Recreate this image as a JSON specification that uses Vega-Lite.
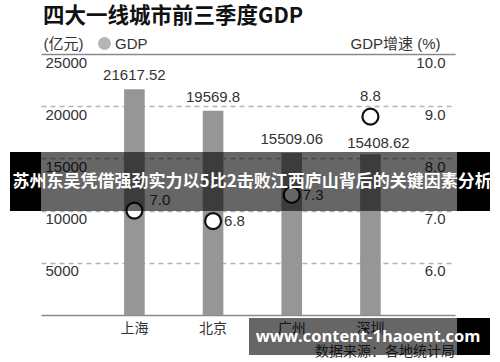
{
  "$schema": "https://vega.github.io/schema/vega-lite/v6.json",
  "width": 414,
  "height": 261,
  "autosize": {"type": "none"},
  "padding": {"left": 41, "top": 54, "right": 45, "bottom": 47},
  "background": "white",
  "config": {"view": {"stroke": null}, "font": "Liberation Sans, Noto Sans CJK SC"},
  "title": {"text": "四大一线城市前三季度GDP", "anchor": "start", "frame": "group", "font": "Noto Sans CJK SC", "fontSize": 21.5, "fontWeight": "bold", "color": "#111111", "offset": 9, "dx": 2},
  "datasets": {
    "cities": [
      {"city": "上海", "gdp": 21617.52, "growth": 7.0},
      {"city": "北京", "gdp": 19569.8, "growth": 6.8},
      {"city": "广州", "gdp": 15509.06, "growth": 7.3},
      {"city": "深圳", "gdp": 15408.62, "growth": 8.8}
    ]
  },
  "data": {"name": "cities"},
  "layer": [
    {
      "encoding": {
        "x": {"field": "city", "type": "nominal", "sort": null,
          "scale": {"type": "band", "domain": ["上海", "北京", "广州", "深圳"], "paddingInner": 0.738, "paddingOuter": 1.079, "align": 0.528},
          "axis": {"title": null, "labelAngle": 0, "ticks": false, "domainColor": "#8a8a8a", "domainWidth": 1.6, "labelPadding": 6, "labelFontSize": 14, "labelFont": "Noto Sans CJK SC", "labelColor": "#333333", "grid": false}},
        "y": {"field": "gdp", "type": "quantitative",
          "scale": {"domain": [0, 25000], "nice": false},
          "axis": {"values": [5000, 10000, 15000, 20000, 25000], "format": "d", "domain": false, "ticks": false, "grid": true,
            "gridColor": {"condition": {"test": "datum.value === 25000", "value": "#8a8a8a"}, "value": "#b4b4b4"},
            "gridDash": {"condition": {"test": "datum.value === 25000", "value": []}, "value": [5, 4]},
            "gridWidth": 1.5,
            "labelAlign": "left", "labelBaseline": "top", "labelPadding": -4, "labelOffset": 1, "labelFontSize": 15, "labelColor": "#333333", "labelFont": "Liberation Sans",
            "title": "(亿元)", "titleAngle": 0, "titleAlign": "left", "titleBaseline": "middle", "titleX": 2, "titleY": -11, "titleFontSize": 15, "titleFontWeight": "normal", "titleColor": "#333333", "titleFont": "Liberation Sans, Noto Sans CJK SC"}}
      },
      "layer": [
        {"mark": {"type": "bar"},
          "encoding": {"color": {"datum": "GDP", "scale": {"range": ["#969696"]},
            "legend": {"orient": "none", "legendX": 56, "legendY": -18, "title": null, "symbolType": "circle", "symbolSize": 169, "symbolOpacity": 0.7, "symbolStrokeWidth": 0, "labelFontSize": 15, "labelFont": "Liberation Sans", "labelColor": "#333333", "padding": 0, "labelOffset": 3}}}},
        {"transform": [{"filter": "datum.city !== '深圳'"}],
          "mark": {"type": "text", "dy": -14, "baseline": "middle", "fontSize": 15, "color": "#333333", "font": "Liberation Sans"},
          "encoding": {"text": {"field": "gdp", "type": "nominal"}}},
        {"transform": [{"filter": "datum.city === '深圳'"}],
          "mark": {"type": "text", "dy": -11, "dx": 8, "baseline": "middle", "fontSize": 15, "color": "#333333", "font": "Liberation Sans"},
          "encoding": {"text": {"field": "gdp", "type": "nominal"}}}
      ]
    },
    {
      "encoding": {
        "x": {"field": "city", "type": "nominal", "sort": null,
          "scale": {"type": "band", "domain": ["上海", "北京", "广州", "深圳"], "paddingInner": 0.738, "paddingOuter": 1.079, "align": 0.528},
          "axis": null},
        "y": {"field": "growth", "type": "quantitative",
          "scale": {"domain": [5, 10], "nice": false, "zero": false},
          "axis": {"orient": "right", "values": [6, 7, 8, 9, 10], "format": ".1f", "domain": false, "ticks": false, "grid": false,
            "labelAlign": "right", "labelBaseline": "top", "labelPadding": -10, "labelOffset": 1, "labelFontSize": 15, "labelColor": "#333333", "labelFont": "Liberation Sans",
            "title": "GDP增速 (%)", "titleAngle": 0, "titleAlign": "right", "titleBaseline": "middle", "titleX": -15, "titleY": -11, "titleFontSize": 15, "titleFontWeight": "normal", "titleColor": "#333333", "titleFont": "Liberation Sans, Noto Sans CJK SC"}}
      },
      "layer": [
        {"mark": {"type": "point", "shape": "circle", "size": 256, "fill": "white", "stroke": "#111111", "strokeWidth": 2.2, "opacity": 1, "fillOpacity": 1}},
        {"transform": [{"filter": "datum.city === '上海'"}],
          "mark": {"type": "text", "align": "left", "dx": 15, "dy": -11, "baseline": "middle", "fontSize": 15, "color": "#333333", "font": "Liberation Sans"},
          "encoding": {"text": {"field": "growth", "type": "quantitative", "format": ".1f"}}},
        {"transform": [{"filter": "datum.city === '北京' || datum.city === '广州'"}],
          "mark": {"type": "text", "align": "left", "dx": 11, "baseline": "middle", "fontSize": 15, "color": "#333333", "font": "Liberation Sans"},
          "encoding": {"text": {"field": "growth", "type": "quantitative", "format": ".1f"}}},
        {"transform": [{"filter": "datum.city === '深圳'"}],
          "mark": {"type": "text", "dy": -21, "baseline": "middle", "fontSize": 15, "color": "#333333", "font": "Liberation Sans"},
          "encoding": {"text": {"field": "growth", "type": "quantitative", "format": ".1f"}}}
      ]
    },
    {
      "data": {"values": [{}]},
      "layer": [
        {"mark": {"type": "text", "align": "right", "baseline": "middle", "fontSize": 14, "font": "Noto Sans CJK SC", "color": "#333333", "text": "数据来源：各地统计局"},
          "encoding": {
            "x": {"datum": 1, "type": "quantitative", "scale": {"domain": [0, 1], "nice": false, "zero": false}, "axis": null},
            "y": {"datum": -3544, "type": "quantitative", "scale": {"domain": [0, 25000], "nice": false}, "axis": null}}},
        {"mark": {"type": "rect", "color": "black", "opacity": 0.6},
          "encoding": {"x": {"datum": 0}, "x2": {"datum": 1.0048}, "y": {"datum": 15613}, "y2": {"datum": 9962}}},
        {"mark": {"type": "rect", "color": "black", "opacity": 1},
          "encoding": {"x": {"datum": -0.0749}, "x2": {"datum": 0}, "y": {"datum": 15613}, "y2": {"datum": 9962}}},
        {"mark": {"type": "rect", "color": "black", "opacity": 1},
          "encoding": {"x": {"datum": 1.0048}, "x2": {"datum": 1.0845}, "y": {"datum": 15613}, "y2": {"datum": 9962}}},
        {"mark": {"type": "text", "align": "center", "baseline": "middle", "fontSize": 17, "font": "Noto Sans CJK SC", "fontWeight": "bold", "color": "white", "text": "苏州东吴凭借强劲实力以5比2击败江西庐山背后的关键因素分析"},
          "encoding": {"x": {"datum": 0.51}, "y": {"datum": 12739}}},
        {"mark": {"type": "rect", "color": "black", "opacity": 0.6},
          "encoding": {"x": {"datum": 0.5024}, "x2": {"datum": 1.0048}, "y": {"datum": -287}, "y2": {"datum": -3831}}},
        {"mark": {"type": "rect", "color": "black", "opacity": 1},
          "encoding": {"x": {"datum": 1.0048}, "x2": {"datum": 1.0845}, "y": {"datum": -287}, "y2": {"datum": -3831}}},
        {"mark": {"type": "text", "align": "center", "baseline": "middle", "fontSize": 16.5, "font": "Open Sans", "fontWeight": "bold", "color": "white", "text": "www.content-1haoent.com"},
          "encoding": {"x": {"datum": 0.79}, "y": {"datum": -2107}}}
      ]
    }
  ],
  "resolve": {"scale": {"x": "independent", "y": "independent"}, "axis": {"x": "independent", "y": "independent"}}
}
